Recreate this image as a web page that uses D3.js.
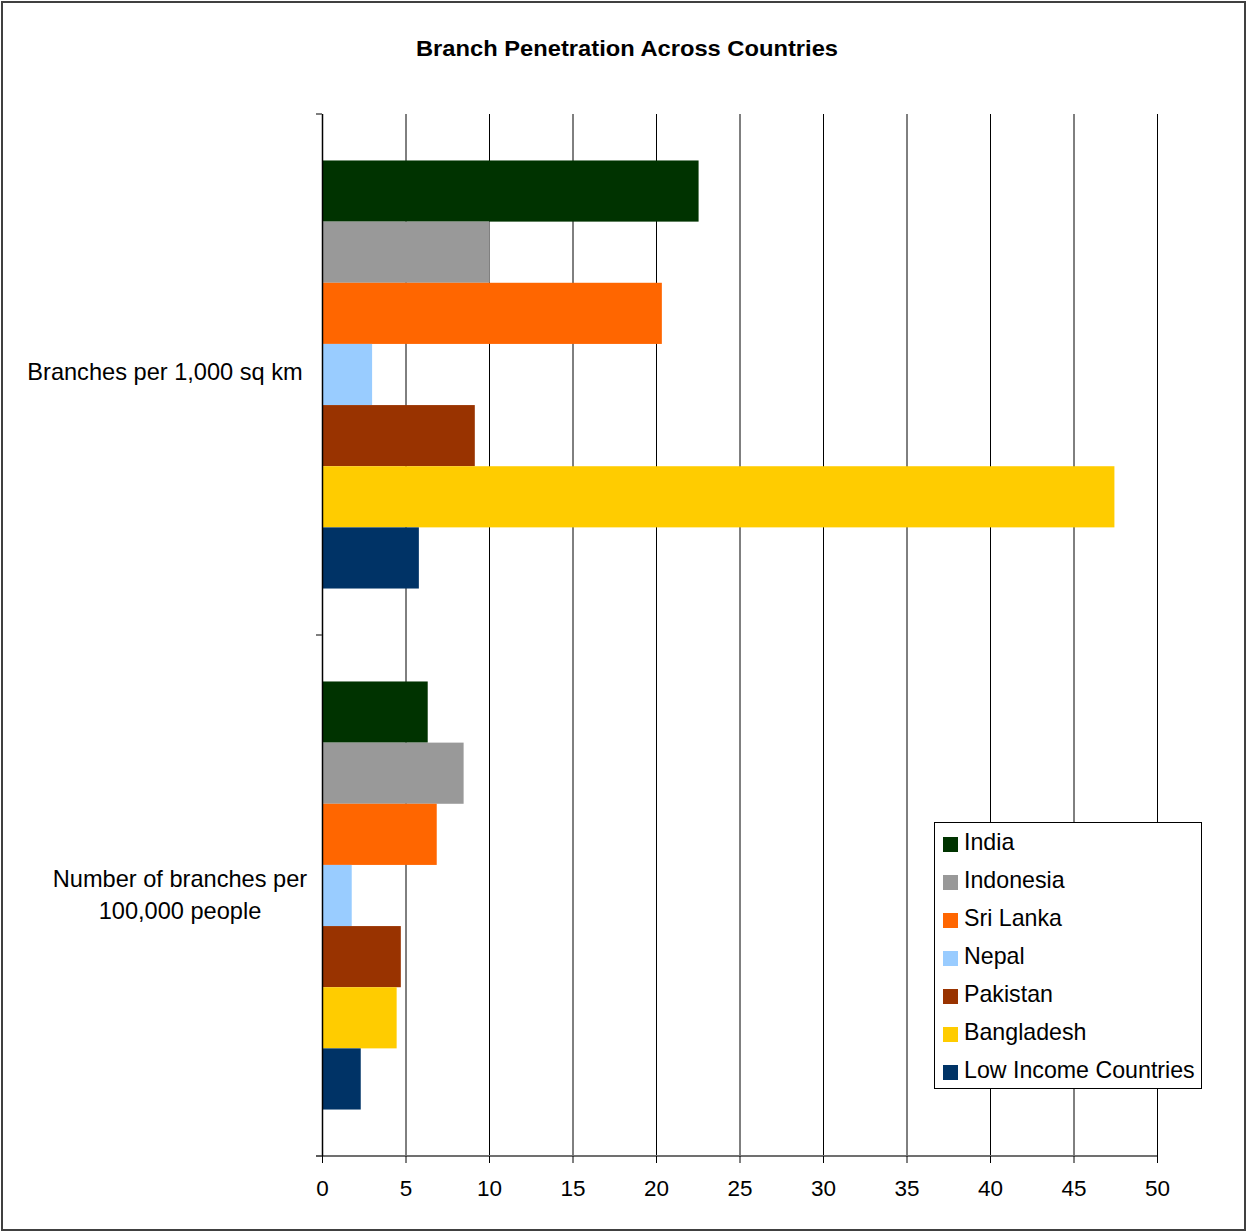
<!DOCTYPE html>
<html>
<head>
<meta charset="utf-8">
<script src="https://cdn.jsdelivr.net/npm/d3@7"></script>
<style>
  html, body { margin: 0; padding: 0; background: #fff; }
  svg { display: block; font-family: "Liberation Sans", Arial, sans-serif; }
</style>
</head>
<body>
<svg id="chart" width="1247" height="1232"></svg>
<script>
// ---- data ----
const categories = ["Branches per 1,000 sq km", "Number of branches per 100,000 people"];
const seriesNames = ["India", "Indonesia", "Sri Lanka", "Nepal", "Pakistan", "Bangladesh", "Low Income Countries"];
const seriesColors = ["#003300", "#999999", "#FF6600", "#99CCFF", "#993300", "#FFCC00", "#003366"];
const valuesIndia = [22.55, 6.33];
const valuesIndonesia = [10.05, 8.48];
const valuesSriLanka = [20.35, 6.87];
const valuesNepal = [3.0, 1.78];
const valuesPakistan = [9.15, 4.72];
const valuesBangladesh = [47.45, 4.47];
const valuesLowIncome = [5.8, 2.32];
const xTicks = [0, 5, 10, 15, 20, 25, 30, 35, 40, 45, 50];
const titleText = "Branch Penetration Across Countries";

const seriesValues = [valuesIndia, valuesIndonesia, valuesSriLanka, valuesNepal, valuesPakistan, valuesBangladesh, valuesLowIncome];

(function () {
const svg = d3.select("#chart");
const W = 1247, H = 1232;
const pLeft = 322, pRight = 1157, pTop = 114, pBottom = 1156;

// outer frame
svg.append("rect").attr("x", 2).attr("y", 2).attr("width", W - 4).attr("height", H - 4)
  .attr("fill", "#fff").attr("stroke", "#404040").attr("stroke-width", 2);

// title
svg.append("text").attr("x", 627).attr("y", 56).attr("text-anchor", "middle")
  .attr("font-size", 22).attr("font-weight", "bold").attr("fill", "#000")
  .attr("textLength", 422).attr("lengthAdjust", "spacingAndGlyphs")
  .text(titleText);

const x = d3.scaleLinear().domain([0, 50]).range([pLeft, pRight]);
const y0 = d3.scaleBand().domain(categories).range([pTop, pBottom]).paddingInner(0).paddingOuter(0);
const y1 = d3.scaleBand().domain(seriesNames).range([0, y0.bandwidth()]).paddingInner(0).paddingOuter(0.76);
const color = d3.scaleOrdinal().domain(seriesNames).range(seriesColors);

// gridlines
svg.append("g").selectAll("line").data(xTicks.filter(t => t > 0)).join("line")
  .attr("x1", d => x(d) + 0.5).attr("x2", d => x(d) + 0.5)
  .attr("y1", pTop).attr("y2", pBottom)
  .attr("stroke", "#000").attr("stroke-width", 1);

// bars
const rows = [];
categories.forEach((c, ci) => {
  seriesNames.forEach((s, si) => rows.push({ cat: c, series: s, value: seriesValues[si][ci] }));
});
svg.append("g").selectAll("rect").data(rows).join("rect")
  .attr("x", x(0))
  .attr("y", d => y0(d.cat) + y1(d.series))
  .attr("width", d => x(d.value) - x(0))
  .attr("height", y1.bandwidth())
  .attr("fill", d => color(d.series));

// x axis
const xAxis = svg.append("g").attr("transform", `translate(0,${pBottom})`)
  .call(d3.axisBottom(x).tickValues(xTicks).tickSize(7).tickPadding(17).tickFormat(d3.format("d")));
xAxis.select(".domain").attr("stroke", "#707070").attr("stroke-width", 2).attr("d", `M${pLeft - 6},0H${pRight}`);
xAxis.selectAll(".tick line").attr("stroke", "#000");
xAxis.selectAll(".tick text").attr("font-size", 22.5).attr("font-family", "Liberation Sans, Arial, sans-serif").attr("fill", "#000");

// y axis
const yAxisTicks = [pTop, pTop + y0.bandwidth(), pBottom];
const yAxis = svg.append("g");
yAxis.append("line").attr("x1", pLeft + 0.5).attr("x2", pLeft + 0.5).attr("y1", pTop).attr("y2", pBottom)
  .attr("stroke", "#000").attr("stroke-width", 1.5);
yAxis.selectAll("line.tk").data(yAxisTicks).join("line").attr("class", "tk")
  .attr("x1", pLeft - 6).attr("x2", pLeft).attr("y1", d => d).attr("y2", d => d)
  .attr("stroke", "#555").attr("stroke-width", 1.5);

// category labels
const labelLines = [["Branches per 1,000 sq km"], ["Number of branches per", "100,000 people"]];
const labelX = [165, 180];
const labelDy = [5.5, 7.5];
categories.forEach((c, ci) => {
  const lines = labelLines[ci];
  const cy = y0(c) + y0.bandwidth() / 2;
  const lh = 31.5;
  const t = svg.append("text").attr("text-anchor", "middle").attr("font-size", 23.6).attr("fill", "#000");
  lines.forEach((ln, li) => {
    t.append("tspan").attr("x", labelX[ci])
      .attr("y", cy + labelDy[ci] + (li - (lines.length - 1) / 2) * lh)
      .text(ln);
  });
});

// legend
const lg = svg.append("g");
lg.append("rect").attr("x", 934.5).attr("y", 822.5).attr("width", 267).attr("height", 266)
  .attr("fill", "#fff").attr("stroke", "#000").attr("stroke-width", 1);
const items = lg.selectAll("g.item").data(seriesNames).join("g").attr("class", "item")
  .attr("transform", (d, i) => `translate(943,${844 + i * 38})`);
items.append("rect").attr("x", 0).attr("y", -7).attr("width", 15).attr("height", 15)
  .attr("fill", d => color(d));
items.append("text").attr("x", 21).attr("y", 5.5).attr("font-size", 23.2).attr("fill", "#000").text(d => d);
})();
</script>
</body>
</html>
